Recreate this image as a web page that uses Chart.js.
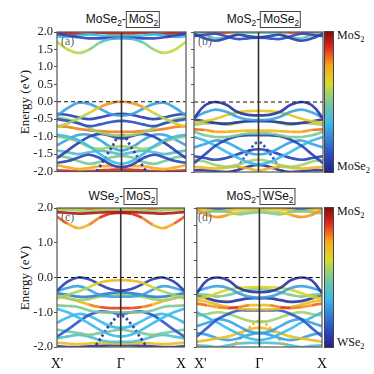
<!DOCTYPE html>
<html><head><meta charset="utf-8">
<script src="https://cdn.jsdelivr.net/npm/chart.js@4.4.1/dist/chart.umd.min.js"></script>
<style>
html,body{margin:0;padding:0;background:#fff;}
#wrap{position:relative;width:374px;height:374px;overflow:hidden;background:#fff;}
canvas{position:absolute;}
.ttl{position:absolute;font-family:"Liberation Sans",Arial,sans-serif;font-size:12px;color:#111;white-space:nowrap;transform:translateX(-50%);line-height:14px;}
.ttl .bx{border:1px solid #444;padding:0 1px 1px 2px;}
sub{font-size:70%;vertical-align:-3px;line-height:0;}
.lab{position:absolute;font-family:"Liberation Serif","Times New Roman",serif;font-size:12px;color:#666;z-index:5;}
.ylab{position:absolute;font-family:"Liberation Serif",serif;font-size:13px;color:#111;transform:translate(-50%,-50%) rotate(-90deg);white-space:nowrap;}
.cb{position:absolute;width:8px;border:1px solid #444;}
.cbl{position:absolute;font-family:"Liberation Serif",serif;font-size:12px;color:#111;white-space:nowrap;}
</style></head><body>
<div id="wrap">
  <div class="ttl" style="left:123px;top:12px">MoSe<sub>2</sub>-<span class="bx">MoS<sub>2</sub></span></div>
  <div class="ttl" style="left:264px;top:12px">MoS<sub>2</sub>-<span class="bx">MoSe<sub>2</sub></span></div>
  <div class="ttl" style="left:123px;top:189px">WSe<sub>2</sub>-<span class="bx">MoS<sub>2</sub></span></div>
  <div class="ttl" style="left:261px;top:189px">MoS<sub>2</sub>-<span class="bx">WSe<sub>2</sub></span></div>
  <div class="ylab" style="left:25px;top:102px">Energy (eV)</div>
  <div class="ylab" style="left:25px;top:278px">Energy (eV)</div>
  <div class="lab" style="left:61px;top:34px">(a)</div>
  <div class="lab" style="left:198px;top:34px">(b)</div>
  <div class="lab" style="left:61px;top:210px">(c)</div>
  <div class="lab" style="left:198px;top:210px">(d)</div>
  <div class="cb" id="cb1" style="left:324px;top:31px;height:140px"></div>
  <div class="cb" id="cb2" style="left:324px;top:207px;height:139px"></div>
  <div class="cbl" style="left:337px;top:28px">MoS<sub>2</sub></div>
  <div class="cbl" style="left:337px;top:159px">MoSe<sub>2</sub></div>
  <div class="cbl" style="left:337px;top:204px">MoS<sub>2</sub></div>
  <div class="cbl" style="left:337px;top:335px">WSe<sub>2</sub></div>
</div>
<script>
// ---------- axis data ----------
const kPoints = [0,1,2,3,4,5,6,7,8,9,10,11,12];
const kTickPositions = [0,6,12];
const kLabelsLeft = ["X'", "\u0393", "X\u2002"];
const kLabelsRight = ["\u2002X'", "\u0393", "X"];
const energyMin = -2.0, energyMax = 2.0, energyStep = 0.5;
const fermiLevel = 0.0;
const gammaIndex = 6;

// ---------- panel (a) MoSe2-MoS2 ----------
const panelA_energy = [
 [1.72,1.50,1.40,1.50,1.70,1.80,1.82,1.80,1.70,1.50,1.40,1.50,1.72],
 [1.95,1.90,1.85,1.82,1.82,1.83,1.83,1.83,1.82,1.82,1.85,1.90,1.95],
 [1.88,1.86,1.90,1.93,1.90,1.88,1.88,1.88,1.90,1.93,1.90,1.86,1.88],
 [1.98,1.97,1.95,1.96,1.98,1.97,1.97,1.97,1.98,1.96,1.95,1.97,1.98],
 [1.93,1.96,1.99,2.02,2.00,1.95,1.94,1.95,2.00,2.02,1.99,1.96,1.93],
 [-0.72,-0.62,-0.48,-0.32,-0.15,-0.04,0.00,-0.04,-0.15,-0.32,-0.48,-0.62,-0.72],
 [-0.40,-0.18,-0.03,-0.06,-0.20,-0.35,-0.40,-0.35,-0.20,-0.06,-0.03,-0.18,-0.40],
 [-0.35,-0.38,-0.45,-0.50,-0.45,-0.38,-0.35,-0.38,-0.45,-0.50,-0.45,-0.38,-0.35],
 [-0.50,-0.55,-0.62,-0.70,-0.65,-0.58,-0.55,-0.58,-0.65,-0.70,-0.62,-0.55,-0.50],
 [-0.45,-0.50,-0.60,-0.75,-0.88,-0.95,-0.97,-0.95,-0.88,-0.75,-0.60,-0.50,-0.45],
 [-0.70,-0.72,-0.78,-0.82,-0.84,-0.86,-0.86,-0.86,-0.84,-0.82,-0.78,-0.72,-0.70],
 [-0.95,-1.00,-1.10,-1.28,-1.50,-1.70,-1.78,-1.70,-1.50,-1.28,-1.10,-1.00,-0.95],
 [-1.62,-1.40,-1.18,-1.00,-0.92,-0.98,-1.05,-0.98,-0.92,-1.00,-1.18,-1.40,-1.62],
 [-2.40,-2.40,-2.35,-2.25,-1.85,-1.35,-0.95,-1.35,-1.85,-2.25,-2.35,-2.40,-2.40],
 [-1.00,-1.05,-1.15,-1.30,-1.35,-1.30,-1.28,-1.30,-1.35,-1.30,-1.15,-1.05,-1.00],
 [-1.25,-1.08,-0.95,-0.95,-1.10,-1.30,-1.40,-1.30,-1.10,-0.95,-0.95,-1.08,-1.25],
 [-1.75,-1.70,-1.60,-1.52,-1.62,-1.80,-1.88,-1.80,-1.62,-1.52,-1.60,-1.70,-1.75],
 [-1.55,-1.60,-1.70,-1.78,-1.72,-1.60,-1.55,-1.60,-1.72,-1.78,-1.70,-1.60,-1.55],
 [-1.82,-1.88,-1.93,-1.90,-1.85,-1.85,-1.85,-1.85,-1.85,-1.90,-1.93,-1.88,-1.82],
 [-1.97,-1.98,-2.00,-1.99,-1.97,-1.95,-1.95,-1.95,-1.97,-1.99,-2.00,-1.98,-1.97],
 [-1.40,-1.45,-1.50,-1.45,-1.40,-1.45,-1.50,-1.45,-1.40,-1.45,-1.50,-1.45,-1.40]
];
const panelA_weight = [
 [0.6,0.6,0.6,0.55,0.45,0.35,0.3,0.35,0.45,0.55,0.6,0.6,0.6],
 0.1, 0.35, 0.92, 0.75,
 [0.6,0.55,0.55,0.6,0.75,0.8,0.8,0.8,0.75,0.6,0.55,0.6,0.75],
 0.3, 0.08, 0.12, 0.55, 0.8, 0.35, 0.08, 0.05, 0.55, 0.3, 0.1, 0.5, 0.75, 0.9, 0.4
];
const panelA_dashed = [13];

// ---------- panel (b) MoS2-MoSe2 ----------
const panelB_energy = [
 [1.95,1.82,1.75,1.82,1.92,1.88,1.85,1.88,1.92,1.82,1.75,1.82,1.95],
 [1.88,1.92,1.95,1.88,1.80,1.82,1.84,1.82,1.80,1.88,1.95,1.92,1.88],
 [1.98,1.92,1.82,1.85,1.95,1.98,1.98,1.98,1.95,1.85,1.82,1.92,1.98],
 [2.00,2.00,1.97,1.98,2.00,2.02,2.02,2.02,2.00,1.98,1.97,2.00,2.00],
 [-0.47,-0.10,0.00,-0.08,-0.28,-0.37,-0.38,-0.37,-0.28,-0.08,0.00,-0.10,-0.47],
 [-0.45,-0.30,-0.22,-0.28,-0.42,-0.50,-0.52,-0.50,-0.42,-0.28,-0.22,-0.30,-0.45],
 [-0.60,-0.55,-0.48,-0.38,-0.30,-0.26,-0.25,-0.26,-0.30,-0.38,-0.48,-0.55,-0.60],
 [-0.50,-0.55,-0.60,-0.62,-0.58,-0.55,-0.55,-0.55,-0.58,-0.62,-0.60,-0.55,-0.50],
 [-0.65,-0.62,-0.60,-0.65,-0.60,-0.55,-0.52,-0.55,-0.60,-0.65,-0.60,-0.62,-0.65],
 [-0.78,-0.80,-0.85,-0.85,-0.83,-0.82,-0.82,-0.82,-0.83,-0.85,-0.85,-0.80,-0.78],
 [-0.85,-0.95,-1.00,-1.00,-0.95,-0.90,-0.90,-0.90,-0.95,-1.00,-1.00,-0.95,-0.85],
 [-1.75,-1.50,-1.25,-1.08,-0.98,-0.95,-0.95,-0.95,-0.98,-1.08,-1.25,-1.50,-1.75],
 [-1.00,-1.10,-1.25,-1.42,-1.58,-1.72,-1.78,-1.72,-1.58,-1.42,-1.25,-1.10,-1.00],
 [-1.30,-1.20,-1.10,-1.15,-1.30,-1.45,-1.50,-1.45,-1.30,-1.15,-1.10,-1.20,-1.30],
 [-1.55,-1.60,-1.65,-1.60,-1.50,-1.40,-1.35,-1.40,-1.50,-1.60,-1.65,-1.60,-1.55],
 [-1.65,-1.70,-1.80,-1.85,-1.80,-1.70,-1.65,-1.70,-1.80,-1.85,-1.80,-1.70,-1.65],
 [-1.85,-1.88,-1.90,-1.88,-1.85,-1.90,-1.95,-1.90,-1.85,-1.88,-1.90,-1.88,-1.85],
 [-1.95,-1.95,-1.98,-2.00,-1.95,-1.85,-1.80,-1.85,-1.95,-2.00,-1.98,-1.95,-1.95],
 [-2.40,-2.40,-2.35,-2.25,-1.90,-1.45,-1.15,-1.45,-1.90,-2.25,-2.35,-2.40,-2.40]
];
const panelB_weight = [
 0.08, 0.12, 0.45, 0.85,
 0.05, 0.3, 0.68, 0.05, 0.55,
 [0.85,0.8,0.75,0.75,0.7,0.7,0.7,0.7,0.7,0.75,0.75,0.8,0.85],
 0.5, 0.1, 0.35, 0.3, 0.1, 0.55, 0.72, 0.05, 0.1
];
const panelB_dashed = [18];

// ---------- panel (c) WSe2-MoS2 ----------
const panelC_energy = [
 [1.75,1.55,1.42,1.52,1.72,1.84,1.86,1.84,1.72,1.52,1.42,1.55,1.75],
 [1.88,1.86,1.84,1.85,1.87,1.88,1.88,1.88,1.87,1.85,1.84,1.86,1.88],
 [1.92,1.95,1.93,1.90,1.93,1.96,1.96,1.96,1.93,1.90,1.93,1.95,1.92],
 [1.98,1.97,1.99,2.00,1.98,1.97,1.97,1.97,1.98,2.00,1.99,1.97,1.98],
 [1.99,2.00,2.00,1.99,1.99,2.00,2.00,2.00,1.99,1.99,2.00,2.00,1.99],
 [-0.60,-0.50,-0.40,-0.28,-0.15,-0.09,-0.08,-0.09,-0.15,-0.28,-0.40,-0.50,-0.60],
 [-0.38,-0.12,0.00,-0.05,-0.20,-0.33,-0.38,-0.33,-0.20,-0.05,0.00,-0.12,-0.38],
 [-0.40,-0.30,-0.25,-0.35,-0.50,-0.55,-0.55,-0.55,-0.50,-0.35,-0.25,-0.30,-0.40],
 [-0.45,-0.50,-0.55,-0.55,-0.50,-0.45,-0.42,-0.45,-0.50,-0.55,-0.55,-0.50,-0.45],
 [-0.50,-0.60,-0.65,-0.62,-0.55,-0.50,-0.48,-0.50,-0.55,-0.62,-0.65,-0.60,-0.50],
 [-0.55,-0.60,-0.68,-0.78,-0.85,-0.88,-0.88,-0.88,-0.85,-0.78,-0.68,-0.60,-0.55],
 [-0.80,-0.82,-0.85,-0.95,-1.00,-1.00,-1.00,-1.00,-1.00,-0.95,-0.85,-0.82,-0.80],
 [-0.90,-1.00,-1.15,-1.32,-1.50,-1.65,-1.70,-1.65,-1.50,-1.32,-1.15,-1.00,-0.90],
 [-1.70,-1.50,-1.28,-1.08,-0.98,-1.00,-1.05,-1.00,-0.98,-1.08,-1.28,-1.50,-1.70],
 [-2.40,-2.40,-2.35,-2.20,-1.80,-1.35,-1.10,-1.35,-1.80,-2.20,-2.35,-2.40,-2.40],
 [-1.30,-1.15,-1.05,-1.10,-1.25,-1.40,-1.45,-1.40,-1.25,-1.10,-1.05,-1.15,-1.30],
 [-1.50,-1.55,-1.60,-1.65,-1.60,-1.55,-1.50,-1.55,-1.60,-1.65,-1.60,-1.55,-1.50],
 [-1.75,-1.70,-1.65,-1.70,-1.80,-1.85,-1.85,-1.85,-1.80,-1.70,-1.65,-1.70,-1.75],
 [-1.88,-1.90,-1.92,-1.90,-1.88,-1.90,-1.90,-1.90,-1.88,-1.90,-1.92,-1.90,-1.88],
 [-1.98,-2.00,-2.00,-1.98,-1.97,-1.95,-1.95,-1.95,-1.97,-1.98,-2.00,-2.00,-1.98]
];
const panelC_weight = [
 [0.88,0.8,0.72,0.75,0.85,0.93,0.95,0.93,0.85,0.75,0.72,0.8,0.88],
 0.95, 0.55, 0.72, 0.97,
 [0.55,0.55,0.55,0.6,0.7,0.72,0.72,0.72,0.7,0.6,0.55,0.55,0.55],
 0.08, 0.3, 0.22, 0.55,
 [0.8,0.7,0.7,0.75,0.85,0.87,0.87,0.87,0.85,0.75,0.7,0.7,0.8],
 0.5, 0.35, 0.15, 0.05, 0.35, 0.5, 0.4, 0.7, 0.05
];
const panelC_dashed = [14];

// ---------- panel (d) MoS2-WSe2 ----------
const panelD_energy = [
 [1.95,1.80,1.74,1.80,1.88,1.90,1.90,1.90,1.88,1.80,1.74,1.80,1.95],
 [1.85,1.88,1.92,1.88,1.82,1.85,1.88,1.85,1.82,1.88,1.92,1.88,1.85],
 [1.98,1.95,1.90,1.93,1.97,1.98,1.98,1.98,1.97,1.93,1.90,1.95,1.98],
 [2.00,1.99,1.98,2.00,2.01,2.01,2.01,2.01,2.01,2.00,1.98,1.99,2.00],
 [-0.45,-0.08,0.00,-0.08,-0.30,-0.40,-0.42,-0.40,-0.30,-0.08,0.00,-0.08,-0.45],
 [-0.40,-0.30,-0.25,-0.30,-0.45,-0.55,-0.58,-0.55,-0.45,-0.30,-0.25,-0.30,-0.40],
 [-0.60,-0.55,-0.45,-0.35,-0.30,-0.28,-0.28,-0.28,-0.30,-0.35,-0.45,-0.55,-0.60],
 [-0.48,-0.50,-0.55,-0.50,-0.42,-0.35,-0.33,-0.35,-0.42,-0.50,-0.55,-0.50,-0.48],
 [-0.50,-0.60,-0.68,-0.70,-0.65,-0.60,-0.60,-0.60,-0.65,-0.70,-0.68,-0.60,-0.50],
 [-0.75,-0.80,-0.85,-0.88,-0.85,-0.80,-0.80,-0.80,-0.85,-0.88,-0.85,-0.80,-0.75],
 [-0.65,-0.70,-0.78,-0.85,-0.90,-0.92,-0.92,-0.92,-0.90,-0.85,-0.78,-0.70,-0.65],
 [-1.70,-1.45,-1.20,-1.05,-0.95,-0.95,-0.95,-0.95,-0.95,-1.05,-1.20,-1.45,-1.70],
 [-1.00,-1.15,-1.30,-1.47,-1.62,-1.75,-1.80,-1.75,-1.62,-1.47,-1.30,-1.15,-1.00],
 [-1.10,-1.05,-1.00,-1.05,-1.15,-1.25,-1.28,-1.25,-1.15,-1.05,-1.00,-1.05,-1.10],
 [-1.40,-1.30,-1.20,-1.25,-1.40,-1.55,-1.60,-1.55,-1.40,-1.25,-1.20,-1.30,-1.40],
 [-1.85,-1.80,-1.75,-1.70,-1.60,-1.50,-1.45,-1.50,-1.60,-1.70,-1.75,-1.80,-1.85],
 [-1.60,-1.65,-1.75,-1.80,-1.75,-1.65,-1.60,-1.65,-1.75,-1.80,-1.75,-1.65,-1.60],
 [-2.40,-2.40,-2.30,-2.15,-1.80,-1.45,-1.25,-1.45,-1.80,-2.15,-2.30,-2.40,-2.40],
 [-1.95,-1.97,-2.00,-1.95,-1.90,-1.88,-1.88,-1.88,-1.90,-1.95,-2.00,-1.97,-1.95]
];
const panelD_weight = [
 [0.8,0.75,0.8,0.75,0.6,0.55,0.55,0.55,0.6,0.75,0.8,0.75,0.8],
 0.5, 0.7, 0.1,
 0.05, 0.3, 0.65, 0.5, 0.05,
 [0.85,0.8,0.75,0.85,0.9,0.7,0.7,0.7,0.9,0.85,0.75,0.8,0.85],
 0.7, 0.15, 0.35, 0.55, 0.3, 0.7, 0.3, 0.75, 0.4
];
const panelD_dashed = [17];

// ---------- colour map (jet-like) ----------
const jetStops = [
 [0.00,[35,35,135]],[0.12,[40,75,195]],[0.35,[60,185,235]],[0.50,[125,200,150]],
 [0.63,[215,220,40]],[0.76,[250,165,25]],[0.89,[225,40,30]],[1.00,[135,10,10]]
];
function jet(t){
  t = Math.max(0, Math.min(1, t));
  for (let i = 1; i < jetStops.length; i++) {
    const [t1,c1] = jetStops[i-1], [t2,c2] = jetStops[i];
    if (t <= t2) {
      const f = (t - t1) / (t2 - t1);
      const c = c1.map((v,j) => Math.round(v + (c2[j]-v)*f));
      return `rgba(${c[0]},${c[1]},${c[2]},0.9)`;
    }
  }
  return 'rgb(135,10,10)';
}
['cb1','cb2'].forEach(id => {
  const el = document.getElementById(id);
  el.style.background = 'linear-gradient(to top,' + jetStops.map(s => `rgb(${s[1].join(',')}) ${s[0]*100}%`).join(',') + ')';
});

const framePlugin = {
  id: 'frame',
  afterDatasetsDraw(chart) {
    const {ctx, chartArea: a, scales: {x, y}} = chart;
    ctx.save();
    const y0 = y.getPixelForValue(fermiLevel);
    ctx.setLineDash([4,3]); ctx.strokeStyle = '#111'; ctx.lineWidth = 1.2;
    ctx.beginPath(); ctx.moveTo(a.left, y0); ctx.lineTo(a.right, y0); ctx.stroke();
    ctx.setLineDash([]);
    const xg = x.getPixelForValue(gammaIndex);
    ctx.strokeStyle = '#333'; ctx.lineWidth = 1.6;
    ctx.beginPath(); ctx.moveTo(xg, a.top); ctx.lineTo(xg, a.bottom); ctx.stroke();
    ctx.strokeStyle = '#555'; ctx.lineWidth = 1.2;
    ctx.strokeRect(a.left, a.top, a.right - a.left, a.bottom - a.top);
    ctx.restore();
  }
};

function makePanel(cfg) {
  const cv = document.createElement('canvas');
  cv.width = cfg.w; cv.height = cfg.h;
  cv.style.left = cfg.left + 'px'; cv.style.top = cfg.top + 'px';
  cv.style.width = cfg.w + 'px'; cv.style.height = cfg.h + 'px';
  document.getElementById('wrap').appendChild(cv);
  const datasets = cfg.energy.map((E, b) => {
    const W = cfg.weight[b];
    const wAt = i => (typeof W === 'number') ? W : W[i];
    const dashed = cfg.dashed.includes(b);
    return {
      data: E.map((e, i) => ({x: kPoints[i], y: e})),
      borderColor: jet(wAt(0)),
      borderWidth: 2.7,
      borderDash: dashed ? [2.5, 2.5] : [],
      pointRadius: 0,
      tension: 0.4,
      fill: false,
      clip: 0,
      segment: { borderColor: c => jet((wAt(c.p0DataIndex) + wAt(c.p1DataIndex)) / 2) }
    };
  });
  new Chart(cv, {
    type: 'line',
    data: { datasets },
    plugins: [framePlugin],
    options: {
      responsive: false, animation: false, events: [],
      layout: { padding: { top: cfg.padTop, right: cfg.padRight, left: 0, bottom: 0 } },
      plugins: { legend: { display: false }, tooltip: { enabled: false } },
      scales: {
        x: {
          type: 'linear', min: kPoints[0], max: kPoints[kPoints.length-1],
          afterBuildTicks: s => { s.ticks = kTickPositions.map(v => ({value: v})); },
          afterFit: s => { s.height = cfg.xH; },
          grid: { display: false }, border: { display: false },
          ticks: {
            display: cfg.showX, autoSkip: false, maxRotation: 0, padding: 1, color: '#111',
            font: { family: 'Liberation Serif', size: 14 },
            callback: v => cfg.kLabels[kTickPositions.indexOf(v)]
          }
        },
        y: {
          min: energyMin, max: energyMax,
          afterFit: s => { s.width = cfg.yW; },
          grid: { display: true, drawOnChartArea: false, drawTicks: true, tickLength: 3, color: '#555' },
          border: { display: false },
          ticks: {
            display: cfg.showY, stepSize: energyStep, padding: 1, color: '#222',
            font: { family: 'Liberation Serif', size: 12.5 },
            callback: v => Number(v).toFixed(1)
          }
        }
      }
    }
  });
}

makePanel({left:0, top:0, w:194, h:180, yW:57, padTop:32, padRight:8, xH:8, showY:true, showX:false,
  kLabels:kLabelsLeft, energy:panelA_energy, weight:panelA_weight, dashed:panelA_dashed});
makePanel({left:186, top:0, w:145, h:180, yW:8, padTop:32, padRight:8, xH:8, showY:false, showX:false,
  kLabels:kLabelsRight, energy:panelB_energy, weight:panelB_weight, dashed:panelB_dashed});
makePanel({left:0, top:180, w:194, h:194, yW:57, padTop:28, padRight:8, xH:27, showY:true, showX:true,
  kLabels:kLabelsLeft, energy:panelC_energy, weight:panelC_weight, dashed:panelC_dashed});
makePanel({left:186, top:180, w:144, h:194, yW:8, padTop:28, padRight:8, xH:27, showY:false, showX:true,
  kLabels:kLabelsRight, energy:panelD_energy, weight:panelD_weight, dashed:panelD_dashed});
</script>
</body></html>
